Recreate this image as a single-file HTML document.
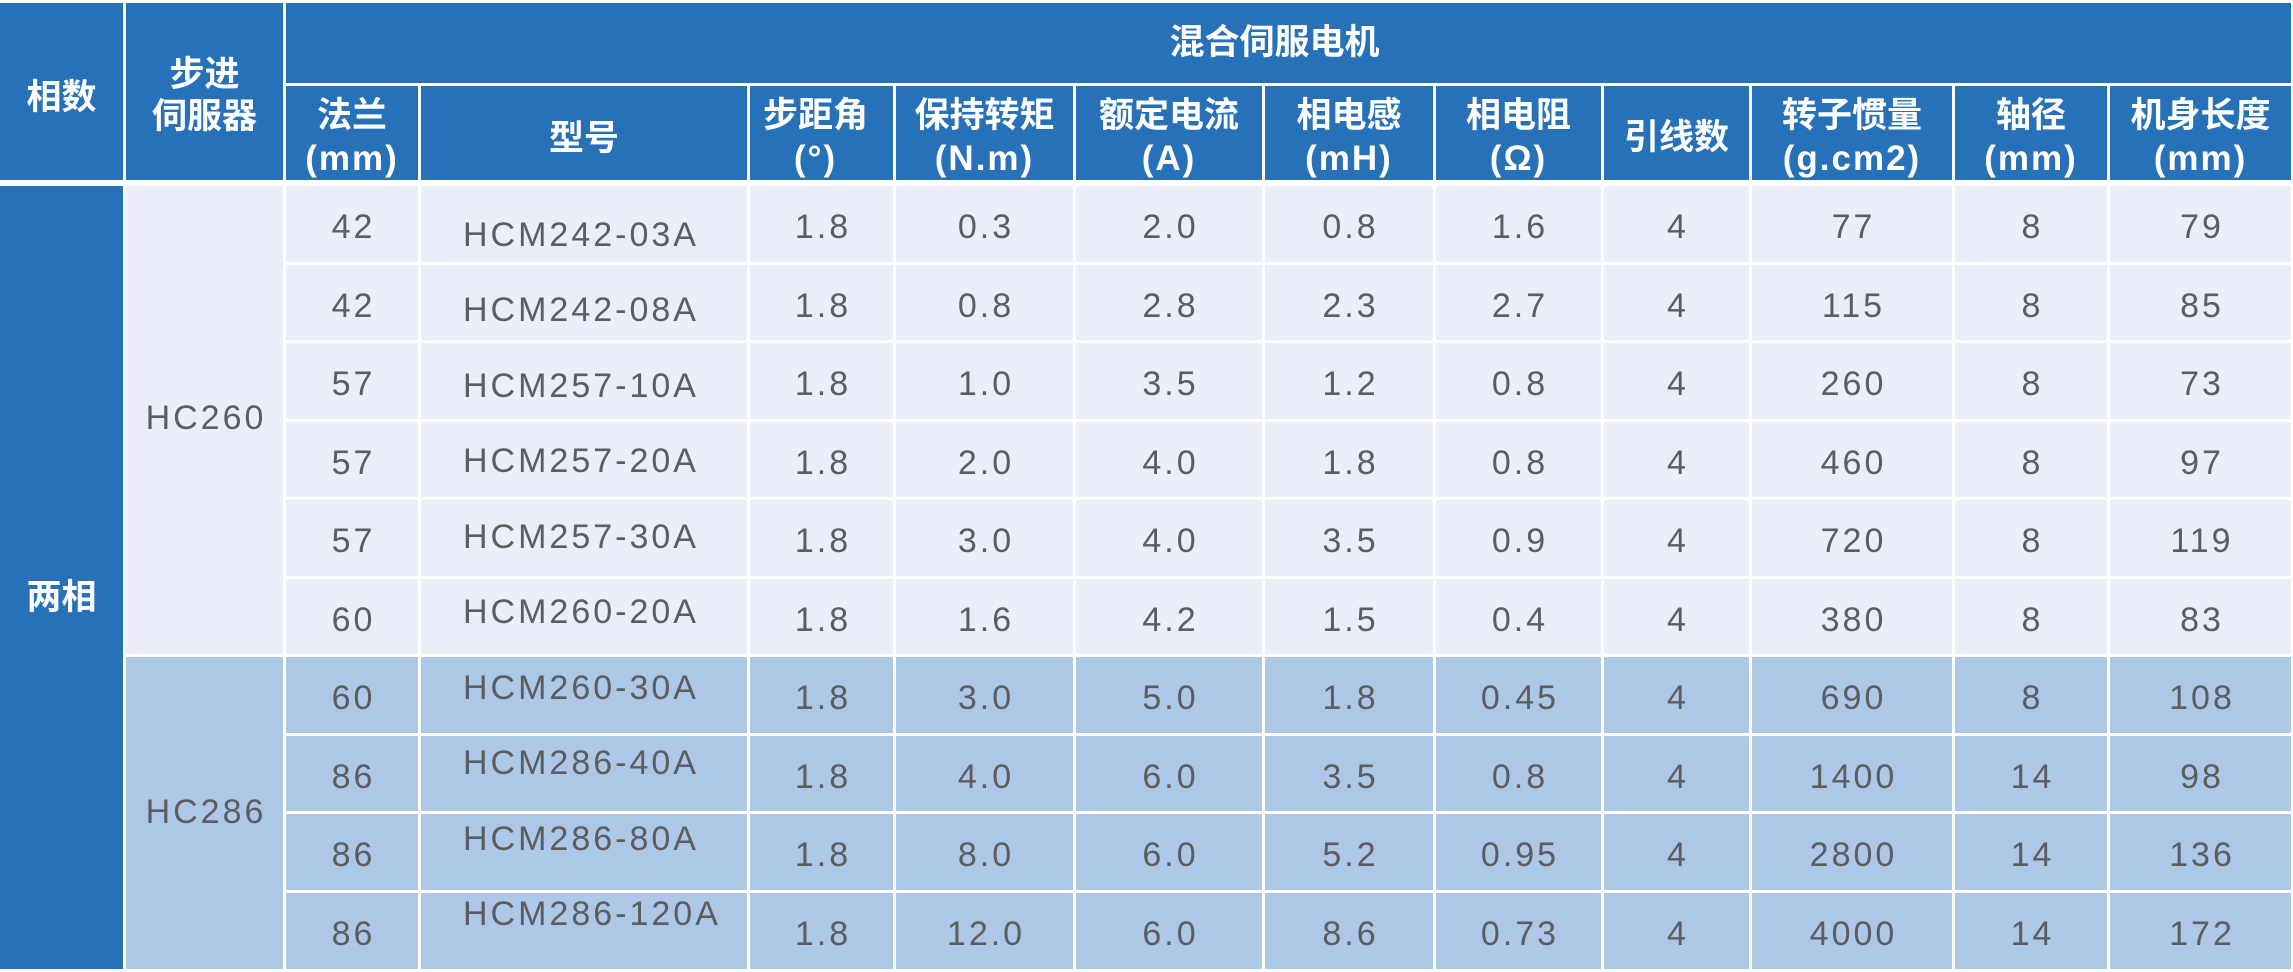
<!DOCTYPE html>
<html><head><meta charset="utf-8"><style>
html,body{margin:0;padding:0;background:#fff;}
body{width:2293px;height:972px;position:relative;overflow:hidden;font-family:"Liberation Sans","Noto Sans CJK SC",sans-serif;}
.a{position:absolute;display:flex;align-items:center;justify-content:center;box-sizing:border-box;}
.H{background:#2771B9;color:#fff;font-weight:bold;font-size:35px;line-height:43px;text-align:center;}
.H span.s{position:relative;display:block;}
.lat{letter-spacing:2px;}
.L{background:#E9EEF8;}
.B{background:#ADC7E7;}
.d{color:#5c5d60;font-size:34px;line-height:34px;letter-spacing:3px;padding-left:3px;}
.d span{position:relative;top:3.5px;}
.m{justify-content:flex-start;padding-left:42px;}
.k2{left:286px;width:132px}.k3{left:421px;width:326px}.k4{left:750px;width:143px}.k5{left:896px;width:177px}
.k6{left:1076px;width:186px}.k7{left:1265px;width:168px}.k8{left:1436px;width:165px}.k9{left:1604px;width:145px}
.k10{left:1752px;width:200px}.k11{left:1955px;width:152px}.k12{left:2110px;width:181px}
.r0{top:186px;height:75.5px}.r1{top:264.5px;height:75.5px}.r2{top:343px;height:75.5px}.r3{top:421.5px;height:75.5px}
.r4{top:500px;height:75.5px}.r5{top:578.5px;height:75.5px}.r6{top:657px;height:75.5px}.r7{top:735.5px;height:75.5px}
.r8{top:814px;height:75.5px}.r9{top:892.5px;height:76.5px}
.hr{top:86px;height:94px;}
</style></head><body>

<!-- left headers -->
<div class="a H" style="left:0;top:3px;width:123px;height:177px;"><span class="s" style="top:6px">相数</span></div>
<div class="a H" style="left:126px;top:3px;width:157px;height:177px;"><span class="s" style="top:4.75px;line-height:42.5px">步进<br>伺服器</span></div>
<div class="a H" style="left:286px;top:3px;width:2005px;height:80px;"><span class="s" style="top:-1px;left:-14px">混合伺服电机</span></div>

<!-- second header row -->
<div class="a H k2 hr"><span class="s" style="top:3.5px">法兰<br><span class="lat">(mm)</span></span></div>
<div class="a H k3 hr"><span class="s" style="top:5px">型号</span></div>
<div class="a H k4 hr"><span class="s" style="top:3.5px;left:-6px">步距角<br><span class="lat">(°)</span></span></div>
<div class="a H k5 hr"><span class="s" style="top:3.5px">保持转矩<br><span class="lat">(N.m)</span></span></div>
<div class="a H k6 hr"><span class="s" style="top:3.5px">额定电流<br><span class="lat">(A)</span></span></div>
<div class="a H k7 hr"><span class="s" style="top:3.5px">相电感<br><span class="lat">(mH)</span></span></div>
<div class="a H k8 hr"><span class="s" style="top:3.5px">相电阻<br><span class="lat">(Ω)</span></span></div>
<div class="a H k9 hr"><span class="s" style="top:4px">引线数</span></div>
<div class="a H k10 hr"><span class="s" style="top:3.5px">转子惯量<br><span class="lat">(g.cm2)</span></span></div>
<div class="a H k11 hr"><span class="s" style="top:3.5px">轴径<br><span class="lat">(mm)</span></span></div>
<div class="a H k12 hr"><span class="s" style="top:3.5px">机身长度<br><span class="lat">(mm)</span></span></div>

<!-- left data columns -->
<div class="a H" style="left:0;top:186px;width:123px;height:783px;"><span class="s" style="top:19.5px">两相</span></div>
<div class="a L d" style="left:126px;top:186px;width:157px;height:468px;"><span style="top:-2px">HC260</span></div>
<div class="a B d" style="left:126px;top:657px;width:157px;height:312px;"><span style="top:-1px">HC286</span></div>

<!-- row 0 -->
<div class="a L d k2 r0"><span>42</span></div>
<div class="a L d k3 r0 m"><span style="top:10.75px">HCM242-03A</span></div>
<div class="a L d k4 r0"><span>1.8</span></div>
<div class="a L d k5 r0"><span>0.3</span></div>
<div class="a L d k6 r0"><span>2.0</span></div>
<div class="a L d k7 r0"><span>0.8</span></div>
<div class="a L d k8 r0"><span>1.6</span></div>
<div class="a L d k9 r0"><span>4</span></div>
<div class="a L d k10 r0"><span>77</span></div>
<div class="a L d k11 r0"><span>8</span></div>
<div class="a L d k12 r0"><span>79</span></div>

<!-- row 1 -->
<div class="a L d k2 r1"><span>42</span></div>
<div class="a L d k3 r1 m"><span style="top:7.75px">HCM242-08A</span></div>
<div class="a L d k4 r1"><span>1.8</span></div>
<div class="a L d k5 r1"><span>0.8</span></div>
<div class="a L d k6 r1"><span>2.8</span></div>
<div class="a L d k7 r1"><span>2.3</span></div>
<div class="a L d k8 r1"><span>2.7</span></div>
<div class="a L d k9 r1"><span>4</span></div>
<div class="a L d k10 r1"><span>115</span></div>
<div class="a L d k11 r1"><span>8</span></div>
<div class="a L d k12 r1"><span>85</span></div>

<!-- row 2 -->
<div class="a L d k2 r2"><span>57</span></div>
<div class="a L d k3 r2 m"><span style="top:4.75px">HCM257-10A</span></div>
<div class="a L d k4 r2"><span>1.8</span></div>
<div class="a L d k5 r2"><span>1.0</span></div>
<div class="a L d k6 r2"><span>3.5</span></div>
<div class="a L d k7 r2"><span>1.2</span></div>
<div class="a L d k8 r2"><span>0.8</span></div>
<div class="a L d k9 r2"><span>4</span></div>
<div class="a L d k10 r2"><span>260</span></div>
<div class="a L d k11 r2"><span>8</span></div>
<div class="a L d k12 r2"><span>73</span></div>

<!-- row 3 -->
<div class="a L d k2 r3"><span>57</span></div>
<div class="a L d k3 r3 m"><span style="top:1.75px">HCM257-20A</span></div>
<div class="a L d k4 r3"><span>1.8</span></div>
<div class="a L d k5 r3"><span>2.0</span></div>
<div class="a L d k6 r3"><span>4.0</span></div>
<div class="a L d k7 r3"><span>1.8</span></div>
<div class="a L d k8 r3"><span>0.8</span></div>
<div class="a L d k9 r3"><span>4</span></div>
<div class="a L d k10 r3"><span>460</span></div>
<div class="a L d k11 r3"><span>8</span></div>
<div class="a L d k12 r3"><span>97</span></div>

<!-- row 4 -->
<div class="a L d k2 r4"><span>57</span></div>
<div class="a L d k3 r4 m"><span style="top:-1.25px">HCM257-30A</span></div>
<div class="a L d k4 r4"><span>1.8</span></div>
<div class="a L d k5 r4"><span>3.0</span></div>
<div class="a L d k6 r4"><span>4.0</span></div>
<div class="a L d k7 r4"><span>3.5</span></div>
<div class="a L d k8 r4"><span>0.9</span></div>
<div class="a L d k9 r4"><span>4</span></div>
<div class="a L d k10 r4"><span>720</span></div>
<div class="a L d k11 r4"><span>8</span></div>
<div class="a L d k12 r4"><span>119</span></div>

<!-- row 5 -->
<div class="a L d k2 r5"><span>60</span></div>
<div class="a L d k3 r5 m"><span style="top:-4.25px">HCM260-20A</span></div>
<div class="a L d k4 r5"><span>1.8</span></div>
<div class="a L d k5 r5"><span>1.6</span></div>
<div class="a L d k6 r5"><span>4.2</span></div>
<div class="a L d k7 r5"><span>1.5</span></div>
<div class="a L d k8 r5"><span>0.4</span></div>
<div class="a L d k9 r5"><span>4</span></div>
<div class="a L d k10 r5"><span>380</span></div>
<div class="a L d k11 r5"><span>8</span></div>
<div class="a L d k12 r5"><span>83</span></div>

<!-- row 6 -->
<div class="a B d k2 r6"><span>60</span></div>
<div class="a B d k3 r6 m"><span style="top:-7.25px">HCM260-30A</span></div>
<div class="a B d k4 r6"><span>1.8</span></div>
<div class="a B d k5 r6"><span>3.0</span></div>
<div class="a B d k6 r6"><span>5.0</span></div>
<div class="a B d k7 r6"><span>1.8</span></div>
<div class="a B d k8 r6"><span>0.45</span></div>
<div class="a B d k9 r6"><span>4</span></div>
<div class="a B d k10 r6"><span>690</span></div>
<div class="a B d k11 r6"><span>8</span></div>
<div class="a B d k12 r6"><span>108</span></div>

<!-- row 7 -->
<div class="a B d k2 r7"><span>86</span></div>
<div class="a B d k3 r7 m"><span style="top:-10.25px">HCM286-40A</span></div>
<div class="a B d k4 r7"><span>1.8</span></div>
<div class="a B d k5 r7"><span>4.0</span></div>
<div class="a B d k6 r7"><span>6.0</span></div>
<div class="a B d k7 r7"><span>3.5</span></div>
<div class="a B d k8 r7"><span>0.8</span></div>
<div class="a B d k9 r7"><span>4</span></div>
<div class="a B d k10 r7"><span>1400</span></div>
<div class="a B d k11 r7"><span>14</span></div>
<div class="a B d k12 r7"><span>98</span></div>

<!-- row 8 -->
<div class="a B d k2 r8"><span>86</span></div>
<div class="a B d k3 r8 m"><span style="top:-13.25px">HCM286-80A</span></div>
<div class="a B d k4 r8"><span>1.8</span></div>
<div class="a B d k5 r8"><span>8.0</span></div>
<div class="a B d k6 r8"><span>6.0</span></div>
<div class="a B d k7 r8"><span>5.2</span></div>
<div class="a B d k8 r8"><span>0.95</span></div>
<div class="a B d k9 r8"><span>4</span></div>
<div class="a B d k10 r8"><span>2800</span></div>
<div class="a B d k11 r8"><span>14</span></div>
<div class="a B d k12 r8"><span>136</span></div>

<!-- row 9 -->
<div class="a B d k2 r9"><span>86</span></div>
<div class="a B d k3 r9 m"><span style="top:-16.75px">HCM286-120A</span></div>
<div class="a B d k4 r9"><span>1.8</span></div>
<div class="a B d k5 r9"><span>12.0</span></div>
<div class="a B d k6 r9"><span>6.0</span></div>
<div class="a B d k7 r9"><span>8.6</span></div>
<div class="a B d k8 r9"><span>0.73</span></div>
<div class="a B d k9 r9"><span>4</span></div>
<div class="a B d k10 r9"><span>4000</span></div>
<div class="a B d k11 r9"><span>14</span></div>
<div class="a B d k12 r9"><span>172</span></div>

</body></html>
